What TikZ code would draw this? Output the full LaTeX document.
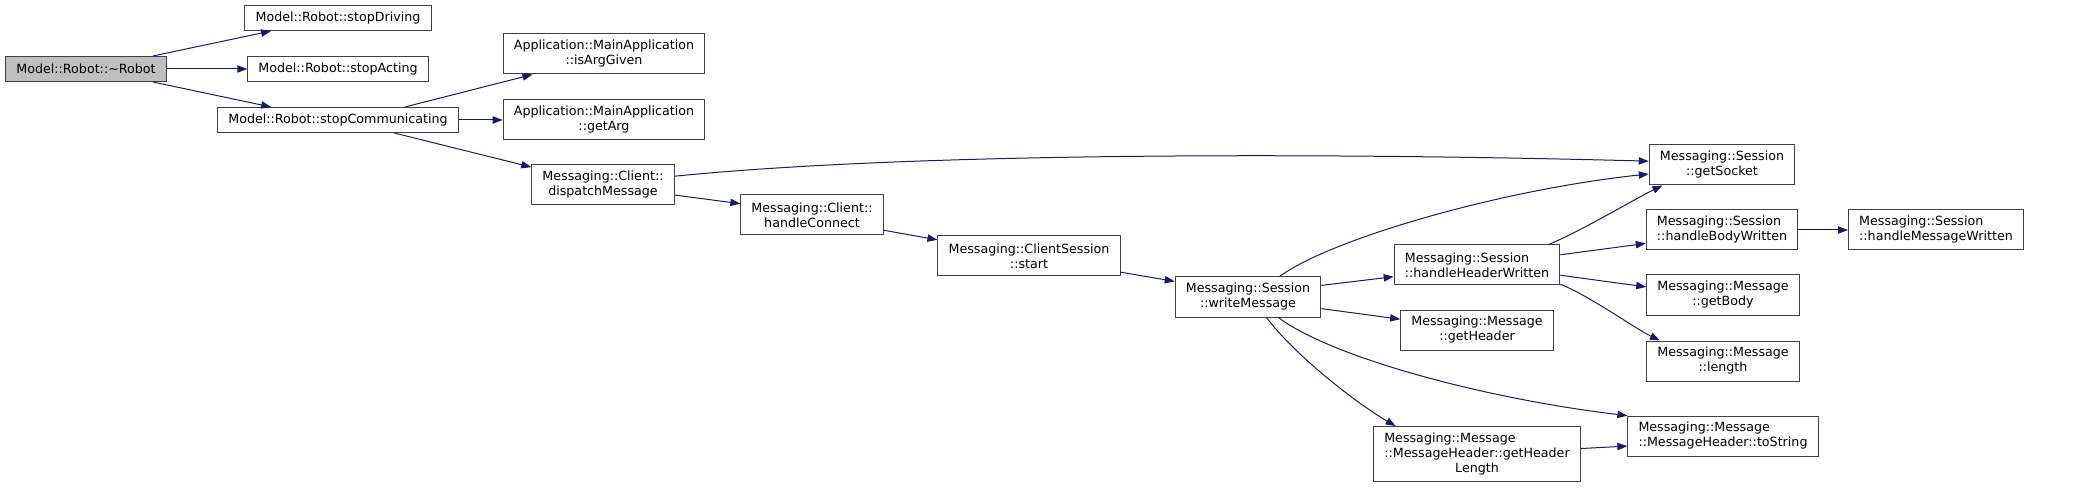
\documentclass[tikz,border=0pt]{standalone}
\usepackage{fontspec}
\setmainfont{DejaVu Sans}
\usetikzlibrary{arrows.meta}
\definecolor{dxedge}{HTML}{191970}
\definecolor{dxborder}{HTML}{404040}
\definecolor{dxroot}{HTML}{BFBFBF}
\tikzset{
  fnbox/.style={draw=dxborder, line width=0.75pt, fill=white,
    inner xsep=8pt, inner ysep=1.5pt, minimum height=18.75pt,
    font=\fontsize{9.5pt}{11.25pt}\selectfont},
  fnboxc/.style={fnbox, minimum height=30pt, align=center},
  fnboxl/.style={fnbox, minimum height=30pt, align=left},
  rootbox/.style={fnbox, fill=dxroot},
  callarrow/.style={draw=dxedge, line width=0.75pt,
    -{Triangle[length=7.5pt,width=5.5pt]}}
}

\begin{document}
\begin{tikzpicture}[x=0.75pt, y=-0.75pt]
  \path[use as bounding box, fill=white] (0,0) rectangle (2073,488);

  % callers on the left
  \node[rootbox] (root) at (86,69) {Model::Robot::\textasciitilde Robot};
  \node[fnbox] (sd) at (338,18) {Model::Robot::stopDriving};
  \node[fnbox] (sa) at (338,69) {Model::Robot::stopActing};
  \node[fnbox] (sc) at (338,120) {Model::Robot::stopCommunicating};
  \node[fnboxc] (iag) at (604,54) {Application::MainApplication\\::isArgGiven};
  \node[fnboxc] (ga) at (604,120) {Application::MainApplication\\::getArg};
  \node[fnboxc] (dm) at (603,185) {Messaging::Client::\\dispatchMessage};
  \node[fnboxc] (hc) at (812,215) {Messaging::Client::\\handleConnect};
  \node[fnboxc] (cs) at (1029,256) {Messaging::ClientSession\\::start};
  \node[fnboxc] (wm) at (1248,297) {Messaging::Session\\::writeMessage};

  % session and message functions
  \node[fnboxl] (hhw) at (1477,265) {Messaging::Session\\::handleHeaderWritten};
  \node[fnboxc] (gh) at (1477,330) {Messaging::Message\\::getHeader};
  \node[fnbox, minimum height=41.25pt] (ghl) at (1477,454)
    {\begin{tabular}{@{}l@{}}Messaging::Message\\::MessageHeader::getHeader\\
     \multicolumn{1}{@{}c@{}}{Length}\end{tabular}};
  \node[fnboxc] (gs) at (1722,165) {Messaging::Session\\::getSocket};
  \node[fnboxl] (hbw) at (1722,230) {Messaging::Session\\::handleBodyWritten};
  \node[fnboxl] (hmw) at (1936,230) {Messaging::Session\\::handleMessageWritten};
  \node[fnboxc] (gb) at (1723,295) {Messaging::Message\\::getBody};
  \node[fnboxc] (len) at (1723,361) {Messaging::Message\\::length};
  \node[fnboxl] (ts) at (1723,436) {Messaging::Message\\::MessageHeader::toString};

  % calls
  \draw[callarrow] (root.11) -- (sd.191);
  \draw[callarrow] (root.east) -- (sa.west);
  \draw[callarrow] (root.-11) -- (sc.169);
  \draw[callarrow] (sc.11) -- (iag.196);
  \draw[callarrow] (sc.east) -- (ga.west);
  \draw[callarrow] (sc.-13) -- (dm.166);
  \draw[callarrow] (dm.7) .. controls +(250,-25) and +(-300,-8) .. (gs.177);
  \draw[callarrow] (dm.-8) -- (hc.171);
  \draw[callarrow] (hc.-12) -- (cs.170);
  \draw[callarrow] (cs.-10) -- (wm.168);
  \draw[callarrow] (wm.33) .. controls +(50,-37) and +(-150,16) .. (gs.187);
  \draw[callarrow] (wm.9) -- (hhw.188);
  \draw[callarrow] (wm.-9) -- (gh.172);
  \draw[callarrow] (wm.-48) .. controls +(30,40) and +(-35,-20) .. (ghl.161);
  \draw[callarrow] (wm.-34) .. controls +(50,38) and +(-150,-18) .. (ts.168);
  \draw[callarrow] (hhw.16) .. controls +(30,-12) and +(-25,12) .. (gs.199);
  \draw[callarrow] (hhw.7) -- (hbw.190);
  \draw[callarrow] (hhw.-7) -- (gb.174);
  \draw[callarrow] (hhw.-13) .. controls +(30,12) and +(-25,-12) .. (len.162);
  \draw[callarrow] (hbw.east) -- (hmw.west);
  \draw[callarrow] (ghl.3) -- (ts.186);
\end{tikzpicture}
\end{document}
